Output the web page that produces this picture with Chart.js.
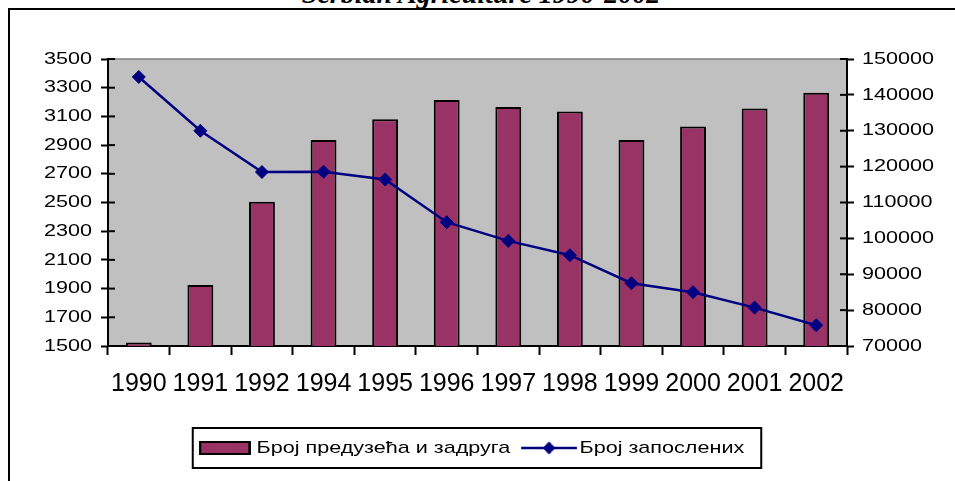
<!DOCTYPE html>
<html>
<head>
<meta charset="utf-8">
<script src="https://cdn.jsdelivr.net/npm/chart.js@4.4.1/dist/chart.umd.min.js"></script>
<style>
  html, body { margin: 0; padding: 0; background: #fff; overflow: hidden; }
  #frame { position: absolute; left: 8px; top: 8px; width: 1000px; height: 1000px; border-left: 2px solid #000; border-top: 2px solid #000; }
  #title { position: absolute; left: 0; top: -20px; width: 962px; text-align: center; font: italic bold 28px/28px "Liberation Serif", serif; color: #000; white-space: nowrap; }
  #chart { position: absolute; left: 0; top: 0; }
</style>
</head>
<body>
<div id="frame"></div>
<div id="title">Serbian Agriculture 1990-2002</div>
<canvas id="chart" width="955" height="481"></canvas>
<script>
const years = ["1990", "1991", "1992", "1994", "1995", "1996", "1997", "1998", "1999", "2000", "2001", "2002"];
const enterprises = [1525, 1925, 2505, 2935, 3080, 3215, 3165, 3135, 2935, 3030, 3155, 3265];
const employees = [145000, 130000, 118500, 118600, 116400, 104500, 99300, 95300, 87500, 85000, 80700, 75800];
const seriesNames = ["Број предузећа и задруга", "Број запослених"];

const FONT = "Liberation Sans";
const STRETCH = 1.27; // the original text is drawn wide
const LEGEND_SHIFT = -3.5;

Chart.defaults.font.family = FONT;
Chart.defaults.color = "#000";

// legend swatches
const barSwatch = document.createElement("canvas");
barSwatch.width = 41;
barSwatch.height = 14;
let c = barSwatch.getContext("2d");
c.fillStyle = "#993366";
c.fillRect(0, 0, 41, 14);
c.strokeStyle = "#000";
c.lineWidth = 2;
c.strokeRect(1, 1, 39, 12);

const lineSwatch = document.createElement("canvas");
lineSwatch.width = 50;
lineSwatch.height = 14;
c = lineSwatch.getContext("2d");
c.strokeStyle = "#000080";
c.lineWidth = 2.5;
c.beginPath();
c.moveTo(4, 7);
c.lineTo(48, 7);
c.stroke();
c.fillStyle = "#000080";
c.beginPath();
c.moveTo(21, 7);
c.lineTo(26, 0.5);
c.lineTo(31, 7);
c.lineTo(26, 13.5);
c.closePath();
c.fill();

function stretchAround(ctx, cx, fn, shift = 0) {
  ctx.save();
  ctx.translate(cx + shift, 0);
  ctx.scale(STRETCH, 1);
  ctx.translate(-cx, 0);
  fn();
  ctx.restore();
}

const excelLook = {
  id: "excelLook",
  beforeDraw(chart) {
    const { ctx, chartArea: a } = chart;
    ctx.save();
    ctx.fillStyle = "#c0c0c0";
    ctx.fillRect(a.left, a.top, a.right - a.left, a.bottom - a.top);
    ctx.strokeStyle = "#808080";
    ctx.lineWidth = 1.5;
    ctx.beginPath();
    ctx.moveTo(a.left, a.top);
    ctx.lineTo(a.right, a.top);
    ctx.stroke();
    ctx.restore();

    // wide tick labels on the value axes
    ["y", "y1"].forEach((id) => {
      const s = chart.scales[id];
      if (s._wide) return;
      const draw = s.drawLabels.bind(s);
      s.drawLabels = (area) => {
        const o = s.options;
        const tl = o.grid.tickLength;
        const cx = o.position === "left" ? s.right - tl - o.ticks.padding : s.left + tl + o.ticks.padding;
        stretchAround(ctx, cx, () => draw(area));
      };
      s._wide = true;
    });

    // wide legend with a box round it
    const lg = chart.legend;
    if (lg && !lg._wide) {
      const draw = lg.draw.bind(lg);
      lg.draw = (area) => {
        const cx = (lg.left + lg.right) / 2;
        stretchAround(ctx, cx, () => draw(area), LEGEND_SHIFT);
        const hb = lg.legendHitBoxes;
        const first = hb[0];
        const last = hb[hb.length - 1];
        const x0 = cx + LEGEND_SHIFT + (first.left - cx) * STRETCH - 11;
        const x1 = cx + LEGEND_SHIFT + (last.left + last.width - cx) * STRETCH + 17;
        const cy = first.top + first.height / 2;
        ctx.save();
        ctx.strokeStyle = "#000";
        ctx.lineWidth = 2;
        ctx.strokeRect(x0, cy - 20, x1 - x0, 40);
        ctx.restore();
      };
      lg._wide = true;
    }
  },
  afterDraw(chart) {
    // ticks cross the value axes, as in Excel
    const { ctx, chartArea: a } = chart;
    ctx.save();
    ctx.strokeStyle = "#000";
    ctx.lineWidth = 2;
    [["y", a.left, 1], ["y1", a.right, -1]].forEach(([id, x, dir]) => {
      const s = chart.scales[id];
      s.ticks.forEach((t, i) => {
        const y = s.getPixelForTick(i);
        ctx.beginPath();
        ctx.moveTo(x, y);
        ctx.lineTo(x + dir * 7, y);
        ctx.stroke();
      });
    });
    ctx.restore();
  },
};

const axisGrid = { drawOnChartArea: false, tickLength: 7, tickWidth: 2, tickColor: "#000" };
const axisBorder = { color: "#000", width: 2 };

const chart = new Chart(document.getElementById("chart"), {
  type: "bar",
  data: {
    labels: years,
    datasets: [
      {
        label: seriesNames[0],
        data: enterprises,
        yAxisID: "y",
        order: 1,
        backgroundColor: "#993366",
        borderColor: "#000",
        borderWidth: 2,
        borderSkipped: false,
        categoryPercentage: 1,
        barPercentage: 0.42,
      },
      {
        type: "line",
        label: seriesNames[1],
        data: employees,
        yAxisID: "y1",
        order: 0,
        borderColor: "#000080",
        borderWidth: 2.5,
        fill: false,
        tension: 0,
        pointStyle: "rectRot",
        pointRadius: 6.5,
        pointBackgroundColor: "#000080",
        pointBorderColor: "#000080",
        pointBorderWidth: 1,
      },
    ],
  },
  options: {
    responsive: false,
    animation: false,
    devicePixelRatio: 1,
    layout: { padding: { left: 0, right: 0, top: 59, bottom: 14.5 } },
    plugins: {
      tooltip: { enabled: false },
      legend: {
        position: "bottom",
        labels: {
          usePointStyle: true,
          pointStyleWidth: 33,
          padding: 13,
          color: "#000",
          font: { family: FONT, size: 17 },
          sort: (a, b) => a.datasetIndex - b.datasetIndex,
          generateLabels(chart) {
            const items = Chart.defaults.plugins.legend.labels.generateLabels(chart);
            items.forEach((it) => {
              it.pointStyle = it.datasetIndex === 0 ? barSwatch : lineSwatch;
            });
            return items;
          },
        },
      },
    },
    scales: {
      x: {
        offset: true,
        grid: { offset: true, drawOnChartArea: false, tickLength: 9, tickWidth: 2, tickColor: "#000" },
        border: axisBorder,
        ticks: { color: "#000", padding: 14, maxRotation: 0, autoSkip: false, font: { family: FONT, size: 25 } },
        afterFit: (s) => { s.height = 80.5; },
      },
      y: {
        position: "left",
        min: 1500,
        max: 3500,
        grid: axisGrid,
        border: axisBorder,
        ticks: { stepSize: 200, padding: 9, color: "#000", font: { family: FONT, size: 17 }, callback: (v) => String(v) },
        afterFit: (s) => { s.width = 108; },
      },
      y1: {
        position: "right",
        min: 70000,
        max: 150000,
        grid: axisGrid,
        border: axisBorder,
        ticks: { stepSize: 10000, padding: 8, color: "#000", font: { family: FONT, size: 17 }, callback: (v) => String(v) },
        afterFit: (s) => { s.width = 108; },
      },
    },
  },
  plugins: [excelLook],
});
</script>
</body>
</html>
